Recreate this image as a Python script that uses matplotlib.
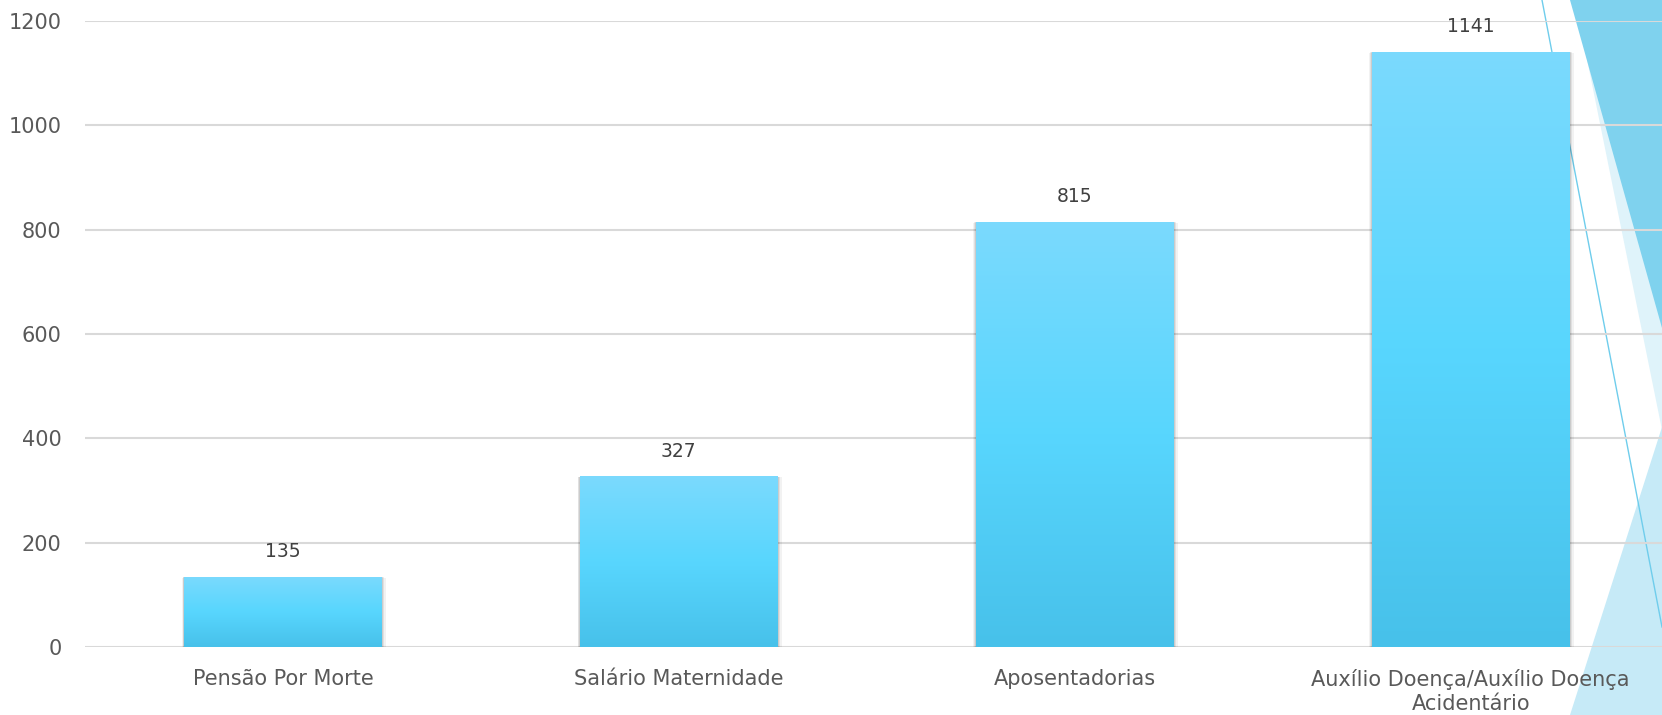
import matplotlib
matplotlib.use("Agg")
import matplotlib.pyplot as plt
import numpy as np
from matplotlib.patches import Polygon, Rectangle
from matplotlib.colors import LinearSegmentedColormap
from matplotlib.lines import Line2D

categories = ["Pensão Por Morte", "Salário Maternidade", "Aposentadorias",
              "Auxílio Doença/Auxílio Doença\nAcidentário"]
values = [135, 327, 815, 1141]
yticks = [0, 200, 400, 600, 800, 1000, 1200]

W, H = 1662, 715
fig = plt.figure(figsize=(W / 100, H / 100), dpi=100)
fig.patch.set_facecolor("white")

def fx(x): return x / W
def fy(y): return 1 - y / H

# background decorations (figure coords)
deco = [
    ([(1575, 0), (1662, 0), (1662, 430)], "#dff3fa"),
    ([(1570, 0), (1662, 0), (1662, 328)], "#7fd2ee"),
    ([(1662, 427), (1662, 715), (1570, 715)], "#c6eaf7"),
]
for pts, col in deco:
    p = Polygon([(fx(x), fy(y)) for x, y in pts], closed=True, transform=fig.transFigure,
                facecolor=col, edgecolor="none", zorder=-2)
    fig.patches.append(p)
fig.lines.append(Line2D([fx(1542), fx(1662)], [fy(0), fy(627)], transform=fig.transFigure,
                        color="#6fcdec", lw=1.0, zorder=-1))

ax = fig.add_axes([85 / W, (H - 647) / H, (W - 85) / W + 0.004, 626 / H])
ax.patch.set_visible(False)
x = np.arange(len(categories))

for s in ax.spines.values():
    s.set_visible(False)
ax.set_yticks(yticks)
ax.grid(axis="y", color="#d9d9d9", lw=1.5, zorder=0)
ax.set_axisbelow(True)
ax.tick_params(axis="both", length=0, labelsize=15, labelcolor="#595959")
ax.tick_params(axis="y", pad=17)
ax.tick_params(axis="x", pad=16)
ax.set_xticks(x)
ax.set_xticklabels(categories, linespacing=1.25)

cmap = LinearSegmentedColormap.from_list("g", ["#47c1ea", "#58d6fe", "#7bdafd"])
grad = np.linspace(0, 1, 256).reshape(-1, 1)
bw = 0.5
bars = ax.bar(x, values, width=bw, color="none", zorder=3)
for xi, v, b in zip(x, values, bars):
    # soft shadow
    for k, a in [(0.010, 0.05), (0.006, 0.07), (0.003, 0.09)]:
        ax.add_patch(Rectangle((xi - bw / 2 - k * 0.6, -k * 500), bw + k * 1.6, v + k * 300,
                               facecolor="#000000", alpha=a, edgecolor="none", zorder=2))
    im = ax.imshow(grad, extent=(xi - bw / 2, xi + bw / 2, 0, v), origin="lower",
                   cmap=cmap, aspect="auto", zorder=3)
    im.set_clip_path(b)
    ax.text(xi, v + 30, str(v), ha="center", va="bottom", fontsize=13.5, color="#404040", zorder=5)

ax.set_xlim(-0.5, len(categories) - 0.5)
ax.set_ylim(0, 1200)
fig.savefig("out.png", dpi=100)
